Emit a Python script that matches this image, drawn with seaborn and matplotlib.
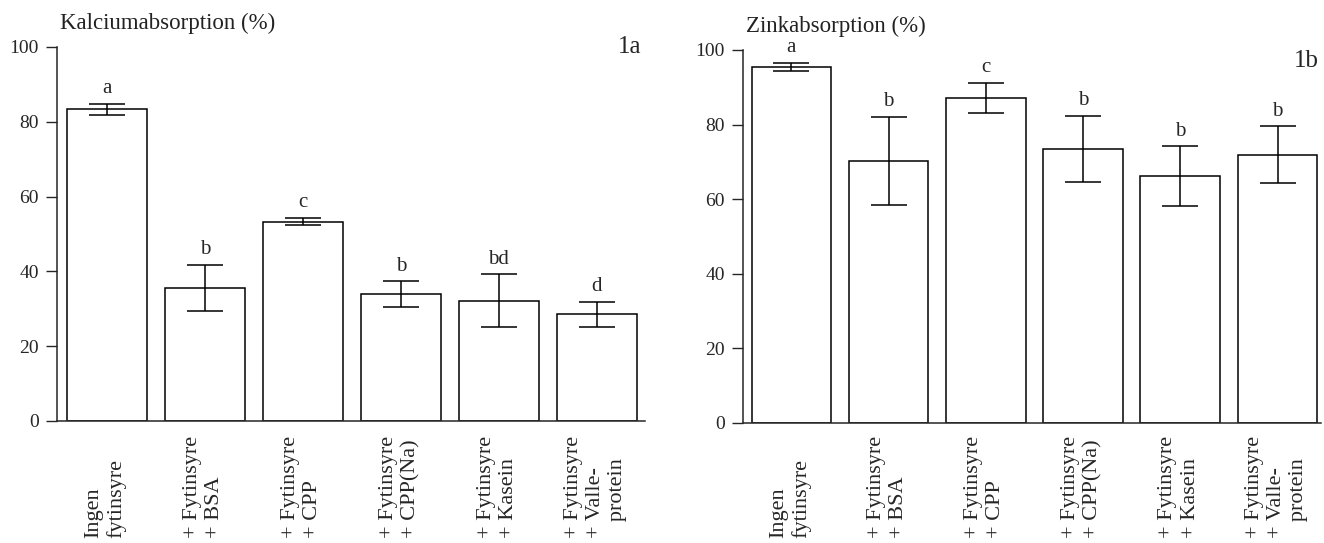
import matplotlib
matplotlib.use('Agg')
import numpy as np
import pandas as pd
import matplotlib.pyplot as plt
import seaborn as sns

#---------------------------------------------------
#   data
#---------------------------------------------------
categories = ['Ingen\nfytinsyre', '+ Fytinsyre\n+ BSA', '+ Fytinsyre\n+ CPP',
              '+ Fytinsyre\n+ CPP(Na)', '+ Fytinsyre\n+ Kasein',
              '+ Fytinsyre\n+ Valle-\n   protein']
ca_mean = [83.3, 35.6, 53.3, 34.0, 32.1, 28.5]
ca_err = [1.5, 6.2, 1.0, 3.4, 7.1, 3.4]
ca_letters = ['a', 'b', 'c', 'b', 'bd', 'd']
zn_mean = [95.4, 70.3, 87.2, 73.4, 66.2, 71.9]
zn_err = [1.1, 11.8, 4.0, 8.9, 8.0, 7.6]
zn_letters = ['a', 'b', 'c', 'b', 'b', 'b']
yticks = [0, 20, 40, 60, 80, 100]

sns.set_style('ticks')
plt.rcParams['font.family'] = ['Liberation Serif', 'DejaVu Serif']

fig = plt.figure(figsize=(13.24, 5.43), dpi=100)
ax1 = fig.add_axes([0.043, 0.2247, 0.444, 0.689])
ax2 = fig.add_axes([0.561, 0.221, 0.437, 0.687])


def draw_panel(ax, mean, err, letters, title, title_y, tag, tag_y, xlim, lab_off):
	df = pd.DataFrame({'cat': categories, 'val': mean})
	sns.barplot(data=df, x='cat', y='val', color='white', saturation=1,
	            edgecolor='black', linewidth=1.1, width=0.82, errorbar=None, ax=ax)
	ax.errorbar(np.arange(len(mean)), mean, yerr=err, fmt='none', ecolor='black',
	            elinewidth=1.1, capsize=13, capthick=1.1)
	for i, (m, e, l) in enumerate(zip(mean, err, letters)):
		ax.annotate(l, (i, m + e), xytext=(0, 4), textcoords='offset points',
		            ha='center', va='bottom', fontsize=15)
	# x labels: rotated, lines bottom-aligned like the print
	for i, c in enumerate(categories):
		ax.annotate(c, (i, 0), xycoords=('data', 'axes fraction'), xytext=(-1, lab_off),
		            textcoords='offset points', rotation=90, ha='center', va='bottom',
		            multialignment='left', linespacing=1.22, fontsize=16)
	ax.set_ylim(0, 100)
	ax.set_xlim(*xlim)
	ax.set_yticks(yticks)
	ax.set_xlabel('')
	ax.set_ylabel('')
	ax.tick_params(axis='y', length=8, width=1, pad=5, labelsize=14)
	ax.tick_params(axis='x', length=0, labelbottom=False)
	sns.despine(ax=ax)
	ax.spines['left'].set_linewidth(1.1)
	ax.spines['bottom'].set_linewidth(1.1)
	ax.text(0.005, title_y, title, transform=ax.transAxes, fontsize=16.5,
	        ha='left', va='center', color='#222222')
	ax.text(0.995, tag_y, tag, transform=ax.transAxes, fontsize=18, ha='right', va='center')


draw_panel(ax1, ca_mean, ca_err, ca_letters, 'Kalciumabsorption (%)', 1.062, '1a', 1.0,
           (-0.51, 5.49), -84)
draw_panel(ax2, zn_mean, zn_err, zn_letters, 'Zinkabsorption (%)', 1.062, '1b', 0.97,
           (-0.5, 5.45), -83)

fig.savefig('out.png', dpi=100)
